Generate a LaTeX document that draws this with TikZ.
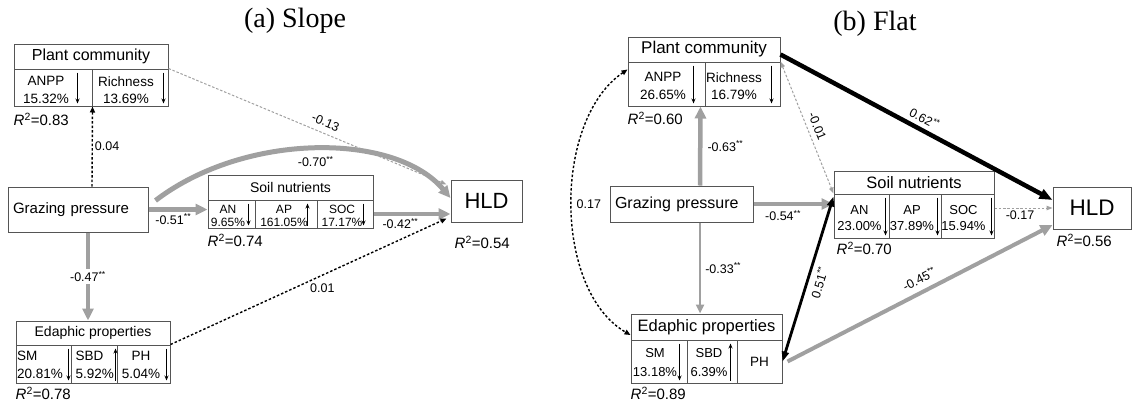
\documentclass[tikz,border=0pt]{standalone}
\usepackage{fontspec}
\setmainfont{Liberation Sans}
\newfontfamily\ttlfont{Liberation Serif}
\usepackage{tikz}
\usetikzlibrary{arrows.meta,positioning}
\definecolor{pathgray}{RGB}{160,160,160}
\definecolor{boxline}{RGB}{85,85,85}
\tikzset{box/.style={draw=boxline, line width=1pt, inner sep=0pt},
         celltxt/.style={inner sep=0pt, align=center, font=\fontsize{13.5}{17.5}\selectfont},
         cellarr/.style={-{Stealth[length=5pt,width=4pt]}, line width=0.9pt},
         plbl/.style={inner sep=2pt, font=\fontsize{12.5}{14}\selectfont},
         rsq/.style={inner sep=0pt, anchor=west, font=\fontsize{15}{17}\selectfont},
         gpath/.style={draw=pathgray, line width=4.5pt, -{Triangle[length=12pt,width=11pt]}},
         gthin/.style={draw=pathgray, line width=2.5pt, -{Triangle[length=9pt,width=8pt]}},
         bpath/.style={draw=black, line width=4.5pt, -{Triangle[length=13pt,width=10pt]}},
         bdot/.style={draw=black, line width=1.4pt, dash pattern=on 2.5pt off 2pt, >={Triangle[length=6pt,width=5pt]}},
         gdot/.style={draw=pathgray, line width=1pt, dash pattern=on 2.5pt off 1.8pt, >={Triangle[length=6pt,width=4.5pt]}}}

\begin{document}
\begin{tikzpicture}[x=1pt,y=-1pt]
\useasboundingbox (0,0) rectangle (1134,402);

\node[font=\ttlfont\fontsize{28}{30}\selectfont] (ttl-a) at (295,21) {(a) Slope};
\node[font=\ttlfont\fontsize{28}{30}\selectfont] (ttl-b) at (875,24) {(b) Flat};

% ---------- (a) Slope ----------
\node[box, minimum width=154, minimum height=25, font=\fontsize{16}{18}\selectfont] (a-pc) at (91,56.5) {Plant community};
\node[box, minimum width=78, minimum height=37] (a-anpp) at (53,87.5) {};
\node[box, minimum width=76, minimum height=37] (a-rich) at (130,87.5) {};
\node[celltxt] (a-anpp-t) at ([xshift=-7,yshift=-2.5]a-anpp.center) {ANPP\\15.32\%};
\node[celltxt] (a-rich-t) at ([xshift=-4,yshift=-2.5]a-rich.center) {Richness\\13.69\%};
\node[rsq] (a-pc-r2) at ([yshift=-13]a-anpp.south west) {\textit{R}\textsuperscript{2}=0.83};

\node[box, text width=130, inner xsep=5, minimum height=45, align=left, font=\fontsize{15}{17}\selectfont] (a-gp) at (78,209.5) {Grazing pressure};

\node[box, minimum width=165, minimum height=25, font=\fontsize{14}{16}\selectfont] (a-sn) at (290.5,187.5) {Soil nutrients};
\node[box, minimum width=47, minimum height=28] (a-an) at (231.5,214) {};
\node[box, minimum width=62, minimum height=28] (a-ap) at (286,214) {};
\node[box, minimum width=56, minimum height=28] (a-soc) at (345,214) {};
\node[celltxt, font=\fontsize{12}{12.5}\selectfont] (a-an-t) at ([xshift=-3.5,yshift=-2]a-an.center) {AN\\9.65\%};
\node[celltxt, font=\fontsize{12}{12.5}\selectfont] (a-ap-t) at ([xshift=-2,yshift=-2]a-ap.center) {AP\\161.05\%};
\node[celltxt, font=\fontsize{12}{12.5}\selectfont] (a-soc-t) at ([xshift=-3,yshift=-2]a-soc.center) {SOC\\17.17\%};
\node[rsq] (a-sn-r2) at ([yshift=-12]a-an.south west) {\textit{R}\textsuperscript{2}=0.74};

\node[box, minimum width=71, minimum height=42, font=\fontsize{22}{24}\selectfont] (a-hld) at (486.5,201) {HLD};
\node[rsq] (a-hld-r2) at ([xshift=4,yshift=-20]a-hld.south west) {\textit{R}\textsuperscript{2}=0.54};

\node[box, minimum width=154, minimum height=24, font=\fontsize{14}{16}\selectfont] (a-ep) at (93,333) {Edaphic properties};
\node[box, minimum width=55, minimum height=38] (a-sm) at (43.5,364) {};
\node[box, minimum width=46, minimum height=38] (a-sbd) at (94,364) {};
\node[box, minimum width=53, minimum height=38] (a-ph) at (143.5,364) {};
\node[celltxt, align=left, anchor=west] (a-sm-t) at ([xshift=1.5,yshift=-1]a-sm.west) {SM\\20.81\%};
\node[celltxt, align=left, anchor=west] (a-sbd-t) at ([xshift=5,yshift=-1]a-sbd.west) {SBD\\5.92\%};
\node[celltxt] (a-ph-t) at ([xshift=-2.5,yshift=-1]a-ph.center) {PH\\5.04\%};
\node[rsq] (a-ep-r2) at ([yshift=-10]a-sm.south west) {\textit{R}\textsuperscript{2}=0.78};

% paths (a)
\draw[bdot,->] ([xshift=14]a-gp.north) -- (a-anpp.south east) node[plbl, midway, right] (a-l1) {0.04};
\draw[gpath] ([xshift=10]a-gp.south) -- ([xshift=-5]a-ep.north) node[plbl, midway, fill=white] (a-l2) {-0.47\textsuperscript{**}};
\draw[gpath] (a-gp.east) -- (a-gp.east -| a-an.west) node[plbl, pos=0.42, below] (a-l3) {-0.51\textsuperscript{**}};
\draw[gpath, line width=5pt] ([xshift=7,yshift=9]a-gp.east) .. controls (245,132) and (395,132) .. ([yshift=3]a-hld.west) node[plbl, pos=0.5, below=3pt] (a-l4) {-0.70\textsuperscript{**}};
\draw[gdot,->] (a-rich.north east) -- ([xshift=-4,yshift=-5]a-hld.north west) node[plbl, pos=0.55, sloped, above=4pt] (a-l5) {-0.13};
\draw[gpath] (a-soc.east) -- (a-soc.east -| a-hld.west) node[plbl, pos=0.35, below] (a-l6) {-0.42\textsuperscript{**}};
\draw[bdot,->] (a-ph.north east) -- ([xshift=-4,yshift=4]a-hld.south west) node[plbl, pos=0.55, below=6pt] (a-l7) {0.01};

% ---------- (b) Flat ----------
\node[box, minimum width=152, minimum height=25, font=\fontsize{17}{19}\selectfont] (b-pc) at (704,49.5) {Plant community};
\node[box, minimum width=77, minimum height=44] (b-anpp) at (666.5,84) {};
\node[box, minimum width=75, minimum height=44] (b-rich) at (742.5,84) {};
\node[celltxt] (b-anpp-t) at ([xshift=-3.5,yshift=-2]b-anpp.center) {ANPP\\26.65\%};
\node[celltxt] (b-rich-t) at ([xshift=-8.5,yshift=-2]b-rich.center) {Richness\\16.79\%};
\node[rsq] (b-pc-r2) at ([yshift=-12]b-anpp.south west) {\textit{R}\textsuperscript{2}=0.60};

\node[box, text width=133, inner xsep=5, minimum height=36, align=left, font=\fontsize{16}{18}\selectfont] (b-gp) at (681.5,204) {Grazing pressure};

\node[box, minimum width=160, minimum height=23, font=\fontsize{16.5}{18}\selectfont] (b-sn) at (914,182.5) {Soil nutrients};
\node[box, minimum width=55, minimum height=44] (b-an) at (861.5,216) {};
\node[box, minimum width=52, minimum height=44] (b-ap) at (915,216) {};
\node[box, minimum width=53, minimum height=44] (b-soc) at (967.5,216) {};
\node[celltxt, font=\fontsize{13}{16}\selectfont] (b-an-t) at ([xshift=-2,yshift=-2]b-an.center) {AN\\23.00\%};
\node[celltxt, font=\fontsize{13}{16}\selectfont] (b-ap-t) at ([xshift=-3,yshift=-2]b-ap.center) {AP\\37.89\%};
\node[celltxt, font=\fontsize{13}{16}\selectfont] (b-soc-t) at ([xshift=-4,yshift=-2]b-soc.center) {SOC\\15.94\%};
\node[rsq] (b-sn-r2) at ([xshift=3,yshift=-10]b-an.south west) {\textit{R}\textsuperscript{2}=0.70};

\node[box, minimum width=78, minimum height=42, font=\fontsize{22.5}{24}\selectfont] (b-hld) at (1092,208) {HLD};
\node[rsq] (b-hld-r2) at ([xshift=4,yshift=-11]b-hld.south west) {\textit{R}\textsuperscript{2}=0.56};

\node[box, minimum width=151, minimum height=26, font=\fontsize{16.5}{18}\selectfont] (b-ep) at (706.5,327) {Edaphic properties};
\node[box, minimum width=56, minimum height=43] (b-sm) at (659,361.5) {};
\node[box, minimum width=50, minimum height=43] (b-sbd) at (712,361.5) {};
\node[box, minimum width=45, minimum height=43] (b-ph) at (759.5,361.5) {};
\node[celltxt, font=\fontsize{13}{19}\selectfont] (b-sm-t) at ([xshift=-4,yshift=-1]b-sm.center) {SM\\13.18\%};
\node[celltxt, font=\fontsize{13}{19}\selectfont] (b-sbd-t) at ([xshift=-3,yshift=-1]b-sbd.center) {SBD\\6.39\%};
\node[celltxt] (b-ph-t) at (b-ph.center) {PH};
\node[rsq] (b-ep-r2) at ([yshift=-10]b-sm.south west) {\textit{R}\textsuperscript{2}=0.89};

% paths (b)
\draw[gpath] ([xshift=18.5]b-gp.north) -- ([xshift=-5]b-anpp.south east) node[plbl, midway, right=3pt] (b-l1) {-0.63\textsuperscript{**}};
\draw[gthin] ([xshift=18.5]b-gp.south) -- ([xshift=-6.5]b-ep.north) node[plbl, midway, right=2pt] (b-l2) {-0.33\textsuperscript{**}};
\draw[gpath] (b-gp.east) -- (b-gp.east -| b-an.west) node[plbl, pos=0.37, below=2pt] (b-l3) {-0.54\textsuperscript{**}};
\draw[bpath] ([yshift=-5]b-pc.east) -- ([yshift=8]b-hld.west) node[plbl, pos=0.51, sloped, above=2pt] (b-l4) {0.62\textsuperscript{**}};
\draw[gdot,<->] (b-rich.north east) -- (b-an.north west) node[plbl, pos=0.52, sloped, above=3pt] (b-l5) {-0.01};
\draw[gdot,->] (b-hld.west -| b-soc.east) -- (b-hld.west) node[plbl, pos=0.44, below] (b-l6) {-0.17};
\draw[black, line width=2.8pt, {Triangle[length=10pt,width=7pt]}-{Triangle[length=10pt,width=7pt]}] (b-ph.east) -- ([yshift=-3]b-an.north west) node[plbl, midway, sloped, below=3pt] (b-l7) {0.51\textsuperscript{**}};
\draw[gpath, line width=4pt] ([xshift=5]b-ph.east) -- ([yshift=-17]b-hld.west) node[plbl, pos=0.52, sloped, above=4pt] (b-l8) {-0.45\textsuperscript{**}};
\draw[bdot,<->] ([yshift=-8]b-anpp.north west) .. controls (553,120) and (553,290) .. ([yshift=-8]b-ep.west) node[plbl, pos=0.5, right=2pt] (b-l9) {0.17};

% arrows inside the cells
\foreach \c/\d in {a-anpp/15,a-rich/5,a-an/7,a-soc/10,a-sm/3,a-ph/4,b-anpp/12,b-rich/9,b-an/4,b-ap/4,b-soc/3,b-sm/8}
{
\draw[cellarr] ([xshift=-\d,yshift=-4]\c.north east) -- ([xshift=-\d,yshift=3]\c.south east);
}
\foreach \c/\d in {a-ap/10,a-sbd/2,b-sbd/7}
{
\draw[cellarr] ([xshift=-\d,yshift=3]\c.south east) -- ([xshift=-\d,yshift=-4]\c.north east);
}

\end{tikzpicture}
\end{document}
